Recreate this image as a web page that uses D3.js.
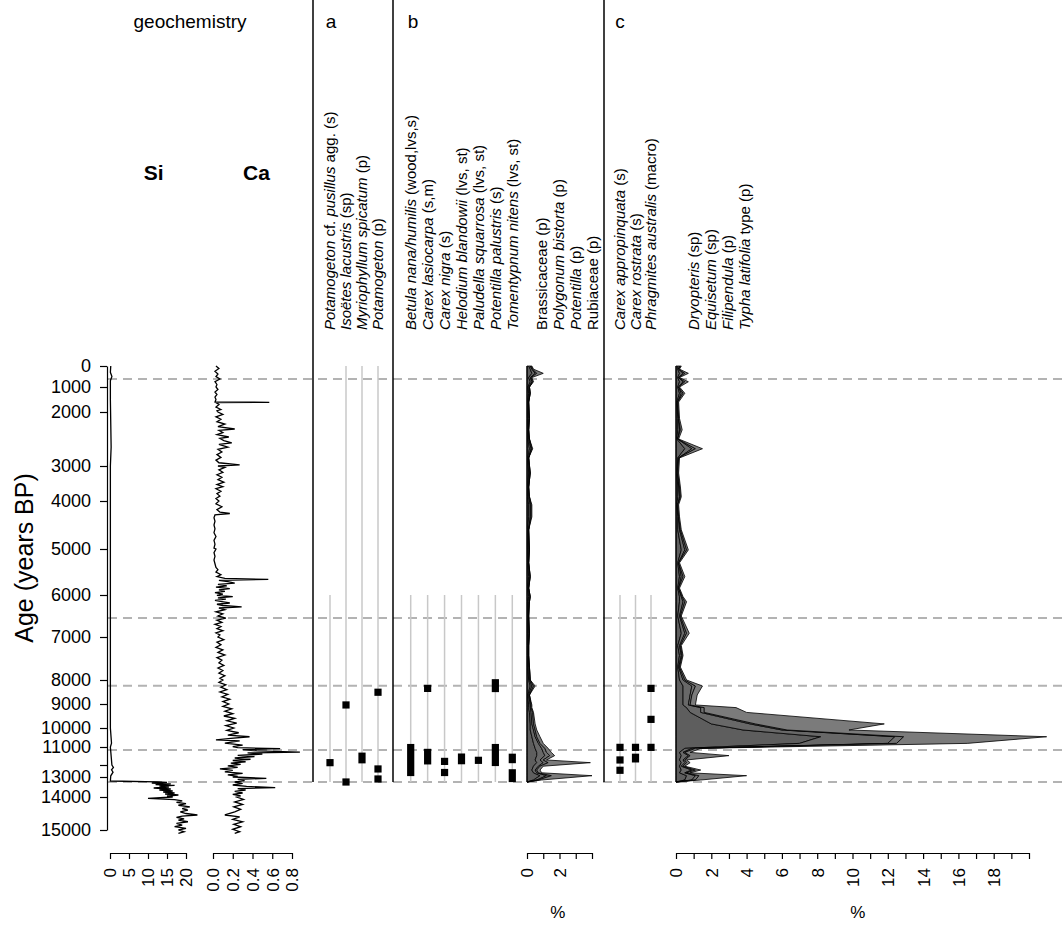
<!DOCTYPE html>
<html>
<head>
<meta charset="utf-8">
<script src="https://cdn.jsdelivr.net/npm/d3@7"></script>
<style>
  body { margin: 0; background: #fff; }
  svg text { font-family: "Liberation Sans", Arial, sans-serif; fill: #000; }
</style>
</head>
<body>
<div id="chart"></div>
<script>
// age-depth model: ages of the axis ticks and their depth down the core
const ageKnots   = [0, 1000, 2000, 3000, 4000, 5000, 6000, 7000, 8000, 9000, 10000, 11000, 12000, 13000, 14000, 15000];
const depthKnots = [0, 21, 46, 100, 135, 183, 229, 271, 314, 338, 362, 381, 399, 411, 431, 464];
const zoneAges = [620, 6550, 8240, 11170, 13250];

// geochemistry [age, value]
const siData = [
  [0,0.2],[300,0.1],[500,0.5],[700,0.1],[1500,0.1],[2650,0.3],[3000,0.1],[4000,0.1],[6000,0.1],[8000,0.1],
  [10000,0.1],[10800,0.4],[11000,0.1],[12000,0.5],[12200,0.9],[12400,0.4],[12600,0.8],[12900,0.2],[13200,0.1],
  [13240,12.5],[13270,15],[13300,11],[13340,16],[13380,12],[13420,17],[13460,13],[13500,15.5],[13550,11.5],
  [13600,16],[13650,13],[13700,16.5],[13750,14],[13800,17],[13850,14.5],[13900,18],[13950,15],[14000,16.5],
  [14040,10],[14080,17],[14120,19],[14160,17.5],[14200,20],[14250,18],[14300,21],[14350,19],[14400,20.5],
  [14450,18.5],[14500,20],[14545,23],[14580,19],[14620,17.5],[14660,19.5],[14700,18],[14750,20.5],[14800,17.5],
  [14850,19],[14900,17],[14950,20],[15000,18],[15050,19.5],[15100,18]
];
const caData = [
  [0,.03],[120,.06],[250,.02],[380,.05],[500,.03],[620,.07],[750,.02],[880,.04],
  [1000,.03],[1100,.05],[1200,.02],[1300,.04],[1400,.02],[1500,.03],[1600,.02],[1612,.57],[1625,.03],[1700,.06],[1800,.03],[1900,.08],[1950,.04],
  [2000,.05],[2045,.1],[2090,.03],[2135,.08],[2180,.04],[2225,.12],[2270,.05],[2315,.22],[2340,.06],[2380,.1],[2420,.04],[2463,.16],[2490,.07],
  [2530,.11],[2570,.19],[2600,.06],[2650,.15],[2690,.05],[2740,.09],[2790,.04],[2840,.08],[2890,.03],[2940,.06],[2980,.27],[3000,.05],
  [3040,.12],[3110,.06],[3180,.1],[3250,.04],[3320,.09],[3390,.05],[3460,.11],[3530,.04],[3590,.1],[3650,.03],[3720,.08],[3790,.04],[3860,.07],[3930,.03],
  [4000,.06],[4060,.03],[4120,.09],[4180,.04],[4230,.07],[4260,.17],[4290,.02],[4350,.01],[4420,.02],[4500,.01],[4580,.02],[4660,.01],[4740,.03],[4820,.01],[4900,.02],[4980,.01],
  [5000,.03],[5080,.01],[5160,.02],[5240,.01],[5320,.02],[5400,.03],[5450,.05],[5500,.03],[5560,.08],[5600,.04],[5640,.12],[5660,.56],[5680,.06],
  [5710,.15],[5740,.22],[5770,.05],[5800,.14],[5830,.03],[5860,.17],[5890,.06],[5920,.12],[5950,.02],[5980,.1],
  [6010,.04],[6040,.2],[6070,.05],[6100,.13],[6130,.02],[6160,.09],[6190,.17],[6220,.04],[6250,.1],[6285,.29],[6310,.06],[6350,.12],[6400,.03],
  [6450,.1],[6500,.05],[6550,.13],[6600,.04],[6650,.09],[6700,.02],[6750,.08],[6800,.04],[6850,.1],[6900,.03],[6950,.07],
  [7000,.05],[7060,.11],[7120,.04],[7180,.08],[7240,.03],[7300,.1],[7360,.05],[7420,.12],[7480,.04],[7540,.09],[7600,.06],[7660,.11],[7720,.05],
  [7780,.1],[7840,.06],[7900,.12],[7960,.07],
  [8000,.1],[8100,.06],[8200,.13],[8300,.08],[8400,.14],[8500,.07],[8600,.15],[8700,.09],[8800,.17],[8900,.1],
  [9000,.16],[9100,.1],[9200,.19],[9300,.12],[9400,.2],[9500,.11],[9600,.22],[9700,.14],[9800,.24],[9900,.13],
  [10000,.21],[10120,.14],[10250,.26],[10380,.15],[10460,.37],[10550,.18],[10630,.03],[10680,.27],[10800,.12],[10900,.3],[10980,.2],
  [11040,.25],[11095,.68],[11150,.3],[11220,.45],[11280,.88],[11330,.35],[11400,.5],[11470,.25],[11540,.42],[11610,.22],[11680,.38],
  [11750,.2],[11820,.33],[11900,.18],[11960,.28],
  [12080,.15],[12200,.25],[12330,.07],[12450,.2],[12580,.12],[12700,.3],[12820,.15],[12950,.25],
  [13000,.2],[13065,.54],[13120,.25],[13180,.32],[13250,.22],[13320,.3],[13400,.2],[13470,.34],[13535,.63],[13580,.25],[13650,.33],
  [13720,.22],[13800,.3],[13870,.2],[13940,.28],
  [14000,.24],[14075,.31],[14150,.22],[14225,.3],[14300,.21],[14375,.28],[14450,.22],[14545,.12],[14600,.27],[14680,.2],[14750,.3],
  [14830,.21],[14900,.28],[14980,.2],[15050,.27],[15100,.22]
];

// macrofossil presence, [from age, to age]
const taxaA = ["pusillus", "isoetes", "myriophyllum", "potamogeton"];
const labelsA = [
  [["Potamogeton",1],[" cf. ",0],["pusillus",1],[" agg. (s)",0]],
  [["Isoëtes lacustris",1],[" (sp)",0]],
  [["Myriophyllum spicatum",1],[" (p)",0]],
  [["Potamogeton",1],[" (p)",0]]
];
const lineStartA = [6000, 0, 0, 0];
const presenceA = [
  [[11870,11870]],
  [[9040,9040],[13250,13250]],
  [[11510,11710]],
  [[8510,8510],[12330,12330],[13100,13100]]
];

const taxaB = ["betula", "lasiocarpa", "nigra", "helodium", "paludella", "potentilla", "tomentypnum"];
const labelsB = [
  [["Betula nana/humilis",1],[" (wood,lvs,s)",0]],
  [["Carex lasiocarpa",1],[" (s,m)",0]],
  [["Carex nigra",1],[" (s)",0]],
  [["Helodium blandowii",1],[" (lvs, st)",0]],
  [["Paludella squarrosa",1],[" (lvs, st)",0]],
  [["Potentilla palustris",1],[" (s)",0]],
  [["Tomentypnum nitens",1],[" (lvs, st)",0]]
];
const presenceB = [
  [[11030,12625]],
  [[8350,8350],[11300,11770]],
  [[11800,11800],[12625,12625]],
  [[11560,11760]],
  [[11740,11740]],
  [[8115,8355],[11030,11860]],
  [[11570,11700],[12650,13075]]
];

const taxaC = ["appropinquata", "rostrata", "phragmites"];
const labelsC = [
  [["Carex appropinquata",1],[" (s)",0]],
  [["Carex rostrata",1],[" (s)",0]],
  [["Phragmites australis",1],[" (macro)",0]]
];
const presenceC = [
  [[11020,11020],[11720,11720],[12440,12440]],
  [[11020,11020],[11570,11660]],
  [[8350,8350],[9640,9640],[11020,11020]]
];

// pollen / spores (%)
const pollenAges = [0,150,350,550,750,1000,1250,1600,2120,2330,2500,2680,2850,3200,3600,3880,4080,4330,4600,5020,5300,5600,5850,
  6040,6160,6500,6910,7200,7430,7700,8000,8250,8625,9040,9150,9350,9830,10105,10460,10810,11075,11300,11480,11720,11870,
  12100,12420,12650,12890,13150,13250];

const pollenTaxaB = ["Brassicaceae", "Polygonum bistorta", "Potentilla", "Rubiaceae"];
const pollenLabelsB = [
  [["Brassicaceae (p)",0]],
  [["Polygonum bistorta",1],[" (p)",0]],
  [["Potentilla",1],[" (p)",0]],
  [["Rubiaceae (p)",0]]
];
const brassicaceae = [.1,.2,.3,.1,.2,.05,.1,.05,.05,.05,.05,.15,.05,.1,.05,.05,.1,.1,.05,.05,.05,.1,.05,.1,.05,.05,.05,.05,.05,.05,.1,.2,.05,.1,.1,.15,.2,.2,.3,.4,.5,.6,.6,.5,.6,.4,.3,.4,.8,.4,0];
const polygonum    = [.1,.1,.2,.1,.1,.05,.05,.05,.05,.05,.05,.1,.05,.05,.05,.05,.1,.1,.05,.05,.05,.05,.05,.05,.05,.05,.05,.05,.05,.05,.05,.1,.05,.1,.1,.1,.1,.2,.2,.3,.4,.4,.5,.3,.4,.3,.2,.2,.4,.2,0];
const potentilla   = [.05,.05,.1,.05,.05,.05,.05,0,.05,0,.05,.05,0,.05,0,.05,.05,.05,0,.05,0,.05,0,.05,.05,0,.05,0,0,.05,.05,.1,.05,.05,.05,.1,.1,.1,.1,.1,.2,.2,.3,.2,.3,.1,.1,.1,.3,.1,0];
const rubiaceae    = [.05,.05,.4,.05,.05,0,0,0,0,0,0,.05,0,0,0,0,.05,.05,0,0,0,0,0,0,0,0,0,0,0,0,0,.1,0,.05,.05,.05,.1,.1,.2,.2,.2,.3,.3,.2,2.6,.2,.2,.2,2.5,.2,0];

const pollenTaxaC = ["Dryopteris", "Equisetum", "Filipendula", "Typha latifolia type"];
const pollenLabelsC = [
  [["Dryopteris",1],[" (sp)",0]],
  [["Equisetum",1],[" (sp)",0]],
  [["Filipendula",1],[" (p)",0]],
  [["Typha latifolia",1],[" type (p)",0]]
];
const dryopteris  = [.1,.1,.2,.1,.2,.1,.2,.05,.1,.1,.05,.5,.1,.05,.1,.1,.05,.1,.1,.3,.1,.2,.1,.2,.2,.1,.3,.1,.2,.1,.2,.4,.4,.4,.6,.8,2.0,3.8,8.2,7.0,.5,.2,.3,.2,.3,.2,.3,.2,.6,.5,0];
const equisetum   = [.1,.05,.2,.05,.2,.05,.1,.05,.05,.1,.05,.4,.05,.05,.05,.1,.05,.05,.1,.2,.05,.1,.05,.1,.2,.1,.2,.1,.1,.05,.2,.5,.4,.3,.8,.6,2.2,2.2,4.2,5.0,.4,.2,.4,.2,.2,.1,.6,.3,.5,.4,0];
const filipendula = [.05,0,.1,0,.1,0,.1,0,0,.05,0,.2,0,0,.05,.05,0,0,.05,.1,0,.1,0,.05,.1,.05,.1,.05,.05,.05,.1,.2,.1,.1,.2,.2,.3,.3,.5,.5,.2,.1,.1,.1,.1,.1,.2,.1,.2,.2,0];
const typha       = [.05,.05,.2,.05,.2,.05,.1,.05,.05,.1,.05,.4,.05,.05,.05,.05,.05,.05,.05,.1,.05,.1,.05,.05,.1,.05,.15,.05,.05,.05,.1,.4,.3,.3,1.8,2.4,7.3,3.5,8.1,4.0,.3,.3,2.2,.1,.2,.1,.3,.2,2.7,.3,0];

const siTicks = [0, 5, 10, 15, 20];
const caTicks = [0, 0.2, 0.4, 0.6, 0.8];

// ---------------------------------------------------------------
const W = 1064, H = 927;
const svg = d3.select("#chart").append("svg")
  .attr("width", W).attr("height", H)
  .attr("viewBox", `0 0 ${W} ${H}`);

const yDepth = d3.scaleLinear().domain([0, 464]).range([366, 830]);
const y = d3.scaleLinear().domain(ageKnots).range(depthKnots.map(yDepth));

const xSi = d3.scaleLinear().domain([0, 20]).range([110, 186]);
const xCa = d3.scaleLinear().domain([0, 0.8]).range([213, 292]);
const xPb = d3.scaleLinear().domain([0, 4]).range([527, 592]);
const xPc = d3.scaleLinear().domain([0, 20]).range([676, 1029]);
const xA = d3.scalePoint().domain(taxaA).range([330, 378]);
const xB = d3.scalePoint().domain(taxaB).range([410.7, 512.3]);
const xC = d3.scalePoint().domain(taxaC).range([620, 651]);
const xLb = d3.scalePoint().domain(pollenTaxaB).range([542, 593]);
const xLc = d3.scalePoint().domain(pollenTaxaC).range([694, 745]);

const axisY = 853;
const labelBottom = 330;

// zone boundaries
svg.append("g").selectAll("line")
  .data(zoneAges)
  .enter().append("line")
  .attr("x1", 108).attr("x2", W)
  .attr("y1", d => y(d)).attr("y2", d => y(d))
  .attr("stroke", "#b3b3b3")
  .attr("stroke-width", 2)
  .attr("stroke-dasharray", "9,6");

// macrofossil columns
function presencePanel(taxa, xs, starts, presence) {
  const g = svg.append("g");
  taxa.forEach((t, i) => {
    g.append("line")
      .attr("x1", xs(t)).attr("x2", xs(t))
      .attr("y1", y(starts[i])).attr("y2", y(13250))
      .attr("stroke", "#c8c8c8")
      .attr("stroke-width", 1.5);
    g.selectAll(null)
      .data(presence[i])
      .enter().append("rect")
      .attr("x", xs(t) - 3.6)
      .attr("width", 7.2)
      .attr("y", d => y(d[0]) - 3.6)
      .attr("height", d => y(d[1]) - y(d[0]) + 7.2)
      .attr("fill", "#000");
  });
}
presencePanel(taxaA, xA, lineStartA, presenceA);
presencePanel(taxaB, xB, taxaB.map(() => 6000), presenceB);
presencePanel(taxaC, xC, taxaC.map(() => 6000), presenceC);

// stacked pollen curves
function pollenPanel(keys, cols, xs, fills) {
  const rows = pollenAges.map((a, i) => {
    const r = {age: a};
    keys.forEach((k, j) => r[k] = cols[j][i]);
    return r;
  });
  const series = d3.stack().keys(keys)(rows);
  const area = d3.area()
    .y(d => y(d.data.age))
    .x0(d => xs(d[0]))
    .x1(d => xs(d[1]));
  const g = svg.append("g");
  g.selectAll("path")
    .data(series)
    .enter().append("path")
    .attr("d", area)
    .attr("fill", (d, i) => fills[i])
    .attr("stroke", "#000")
    .attr("stroke-width", 0.8)
    .attr("stroke-linejoin", "round");
  g.append("line")
    .attr("x1", xs(0)).attr("x2", xs(0))
    .attr("y1", y(0)).attr("y2", y(13250))
    .attr("stroke", "#000").attr("stroke-width", 1.2);
}
const grays = ["#5e5e5e", "#686868", "#717171", "#7b7b7b"];
pollenPanel(pollenTaxaB, [brassicaceae, polygonum, potentilla, rubiaceae], xPb, grays);
pollenPanel(pollenTaxaC, [dryopteris, equisetum, filipendula, typha], xPc, grays);

// geochemistry curves
svg.append("path")
  .datum(siData)
  .attr("d", d3.line().x(d => xSi(d[1])).y(d => y(d[0])))
  .attr("fill", "none").attr("stroke", "#000").attr("stroke-width", 1.3);
svg.append("path")
  .datum(caData)
  .attr("d", d3.line().x(d => xCa(d[1])).y(d => y(d[0])))
  .attr("fill", "none").attr("stroke", "#000").attr("stroke-width", 1.3);

// panel separators
svg.append("g").selectAll("line")
  .data([313, 393, 604])
  .enter().append("line")
  .attr("x1", d => d).attr("x2", d => d)
  .attr("y1", 0).attr("y2", y(13250))
  .attr("stroke", "#000").attr("stroke-width", 1.5);

// age axis
const gy = svg.append("g")
  .attr("transform", "translate(107,0)")
  .call(d3.axisLeft(y)
    .tickValues(ageKnots)
    .tickSize(7).tickSizeOuter(0).tickPadding(9)
    .tickFormat(d => d === 12000 ? "" : d));
gy.selectAll("text").style("font-size", "18px");
gy.selectAll("path, line").attr("stroke", "#000").attr("stroke-width", 1.2);

svg.append("text")
  .attr("transform", "translate(33,558) rotate(-90)")
  .attr("text-anchor", "middle")
  .style("font-size", "25px")
  .text("Age (years BP)");

// bottom axes
function bottomAxis(scale, ticks, fmt) {
  const g = svg.append("g")
    .attr("transform", `translate(0,${axisY})`)
    .call(d3.axisBottom(scale).tickValues(ticks).tickSize(6).tickSizeOuter(0).tickFormat(fmt));
  g.selectAll("path, line").attr("stroke", "#000").attr("stroke-width", 1.2);
  g.selectAll("text")
    .attr("transform", "rotate(-90)")
    .attr("x", -15).attr("y", 0).attr("dy", "0.35em")
    .attr("text-anchor", "end")
    .style("font-size", "17px");
}
bottomAxis(xSi, siTicks, d => d);
bottomAxis(xCa, caTicks, d3.format(".1f"));
bottomAxis(xPb, d3.range(0, 5), d => d % 2 === 0 && d < 4 ? d : "");
bottomAxis(xPc, d3.range(0, 21), d => d % 2 === 0 && d < 20 ? d : "");

svg.selectAll(".pct")
  .data([xPb(1.9), xPc(10.3)])
  .enter().append("text")
  .attr("x", d => d).attr("y", 918)
  .attr("text-anchor", "middle")
  .style("font-size", "17px")
  .text("%");

// headings
const heads = [["geochemistry", 190], ["a", 331], ["b", 413], ["c", 620]];
svg.selectAll(".head")
  .data(heads)
  .enter().append("text")
  .attr("x", d => d[1]).attr("y", 28)
  .attr("text-anchor", "middle")
  .style("font-size", "19px")
  .text(d => d[0]);

svg.selectAll(".elem")
  .data([["Si", xSi(11.5)], ["Ca", xCa(0.44)]])
  .enter().append("text")
  .attr("x", d => d[1]).attr("y", 180)
  .attr("text-anchor", "middle")
  .style("font-size", "21px").style("font-weight", "bold")
  .text(d => d[0]);

// rotated taxon names
function taxonLabels(names, labels, xs) {
  names.forEach((n, i) => {
    const t = svg.append("text")
      .attr("transform", `translate(${xs(n)},${labelBottom}) rotate(-90)`)
      .attr("dy", "0.36em")
      .style("font-size", "15px");
    labels[i].forEach(p => {
      t.append("tspan")
        .style("font-style", p[1] ? "italic" : "normal")
        .text(p[0]);
    });
  });
}
taxonLabels(taxaA, labelsA, xA);
taxonLabels(taxaB, labelsB, xB);
taxonLabels(pollenTaxaB, pollenLabelsB, xLb);
taxonLabels(taxaC, labelsC, xC);
taxonLabels(pollenTaxaC, pollenLabelsC, xLc);
</script>
</body>
</html>
